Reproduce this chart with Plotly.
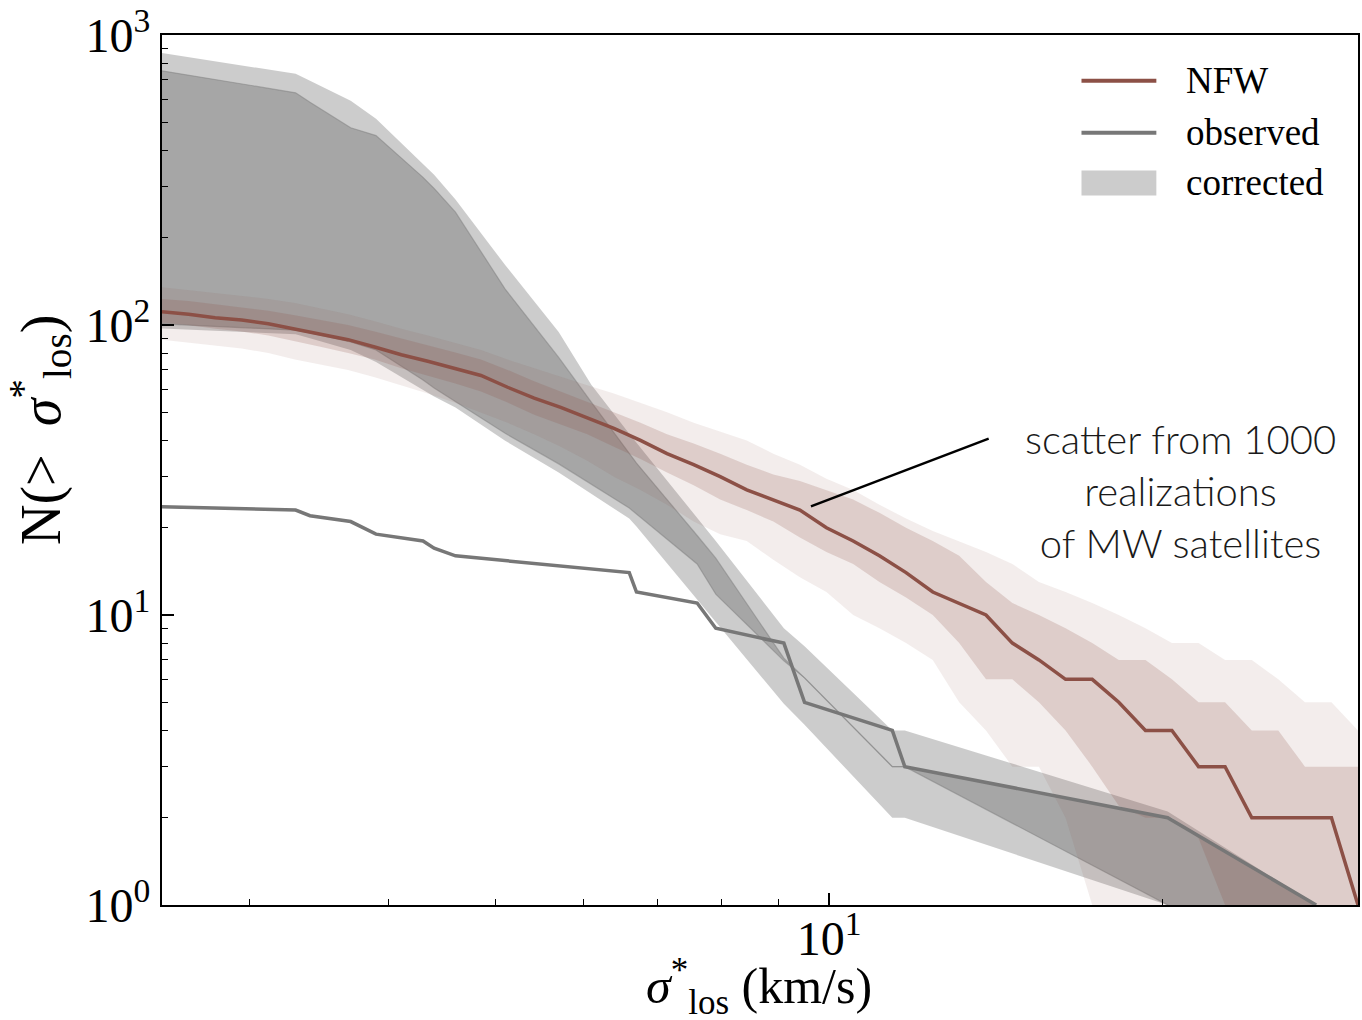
import math
import plotly.graph_objects as go

# ---------------- data ----------------
# NFW prediction: sigma grid (km/s), median and 68% / 95% scatter bands
nfw_sigma = [2.500, 2.642, 2.792, 2.950, 3.118, 3.295, 3.482, 3.680, 3.889, 4.110,
             4.343, 4.590, 4.850, 5.126, 5.417, 5.724, 6.049, 6.393, 6.756, 7.139,
             7.545, 7.973, 8.425, 8.903, 9.409, 9.942, 10.51, 11.10, 11.73, 12.40,
             13.10, 13.85, 14.63, 15.46, 16.34, 17.27, 18.25, 19.29, 20.38, 21.54,
             22.76, 24.06, 25.42, 26.87, 28.39, 30.00]
nfw_median = [111, 109, 106, 104, 101, 97, 93, 89, 84, 79, 75, 71, 67, 61, 56, 52, 48, 44, 40, 36,
              33, 30, 27, 25, 23, 20, 18, 16, 14, 12, 11, 10, 8, 7, 6, 6, 5, 4, 4, 3,
              3, 2, 2, 2, 2, 1]
nfw_in_hi = [123, 121, 118, 115, 112, 108, 104, 100, 95, 90, 85, 80.5, 76, 70, 64, 59, 54.5, 50, 46, 42,
             39, 36, 33, 30.5, 29, 27, 25, 22.5, 20, 18, 16, 13, 11, 10, 9, 8, 7, 7, 6, 5,
             5, 4, 4, 3, 3, 3]
nfw_in_lo = [102, 100, 97, 95, 92, 88, 84, 80, 76, 71, 67, 63, 59, 54, 49, 45.5, 42, 38, 34.5, 31,
             28, 25, 23, 21, 18.5, 16.5, 15, 13, 11.5, 10, 8, 6, 6, 5, 4, 3, 2.2, 2, 2, 1.7,
             1, 0, 0, 0, 0, 0]
nfw_out_hi = [135, 132, 129, 126, 123, 119, 114, 109, 103, 97, 92, 87, 82, 76, 71, 66, 62, 58, 54, 50,
              46, 43, 40, 36, 33, 29.5, 27, 24, 21.5, 19.5, 18, 16.5, 15, 13, 12, 11, 10, 9, 8, 8,
              7, 7, 6, 5, 5, 4]
nfw_out_lo = [89, 87, 85, 83, 80, 76, 73, 70, 66, 62, 58, 54, 50, 46, 42, 38, 34, 30, 27, 24,
              21, 19, 18, 15.5, 13.5, 12, 10, 9, 8, 7, 5, 4, 3, 3, 2, 1, 0, 0, 0, 0,
              0, 0, 0, 0, 0, 0]

# observed MW satellites
obs_sigma = [2.1, 3.3, 3.4, 3.7, 3.9, 4.3, 4.4, 4.6, 6.6, 6.7, 7.6, 7.9, 9.1, 9.5, 11.4, 11.7, 20.2, 27.5]
obs_N = [24, 23, 22, 21, 19, 18, 17, 16, 14, 12, 11, 9, 8, 5, 4, 3, 2, 1]

# corrected counts: scatter bands
corr_sigma = [2.1, 3.3, 3.4, 3.7, 3.9, 4.3, 4.4, 4.6, 5.1, 5.7, 6.1, 6.6, 6.7, 7.6, 7.9, 9.1, 9.5,
              11.4, 11.7, 20.2, 27.5]
corr_out_hi = [960, 735, 695, 593, 514, 357, 330, 271, 161, 94.6, 62.2, 42.2, 39.3, 21.5, 18, 9.0, 7.8,
               4, 4, 2.1, 1]
corr_in_hi = [840, 632, 586, 479, 450, 323, 296, 245, 133, 77.3, 54.2, 35.9, 33.4, 18.8, 15.7, 7.1, 6.07,
              3, 3, 2, 1]
corr_in_lo = [104, 96, 94, 87.4, 82, 64.6, 60.6, 54.4, 42.3, 33.2, 28.3, 23.4, 22.3, 15.0, 11.8, 6.95, 6.07,
              3, 3, 1, 0]
corr_out_lo = [100, 93, 90, 82, 74.6, 59.8, 56.7, 51.9, 39.9, 31, 26.2, 21.5, 20.2, 11.3, 9.5, 4.94, 4.18,
               2, 2, 1, 0]

legend_labels = ["NFW", "observed", "corrected"]
x_ticks = [10]
x_ticktext = ["10<sup>1</sup>"]
y_ticks = [1, 10, 100, 1000]
y_ticktext = ["10<sup>0</sup>", "10<sup>1</sup>", "10<sup>2</sup>", "10<sup>3</sup>"]

# ---------------- styling ----------------
NFW_COL = "#8c5046"
OBS_COL = "#777777"
SERIF = "Liberation Serif, Times New Roman, serif"
SANS = "Lato, Open Sans, sans-serif"


def floor(v):
    # zero counts cannot be shown on a log axis -> push them far below the frame
    return [a if a > 0 else 1e-2 for a in v]


fig = go.Figure()


def band(x, lo, hi, color, lw=0, name=None):
    fig.add_trace(go.Scatter(x=x, y=floor(lo), mode="lines",
                             line=dict(color=color, width=lw), hoverinfo="skip",
                             showlegend=False))
    fig.add_trace(go.Scatter(x=x, y=floor(hi), mode="lines", fill="tonexty",
                             fillcolor=color, line=dict(color=color, width=lw),
                             hoverinfo="skip", showlegend=False, name=name))


# corrected bands
band(corr_sigma, corr_out_lo, corr_out_hi, "rgba(128,128,128,0.4)", 0, "corrected")
band(corr_sigma, corr_in_lo, corr_in_hi, "rgba(128,128,128,0.5)", 1.2)
# NFW bands
band(nfw_sigma, nfw_out_lo, nfw_out_hi, "rgba(140,80,70,0.10)", 0)
band(nfw_sigma, nfw_in_lo, nfw_in_hi, "rgba(140,80,70,0.20)", 0)

fig.add_trace(go.Scatter(x=nfw_sigma, y=nfw_median, mode="lines", name="NFW",
                         line=dict(color=NFW_COL, width=3.5), showlegend=False))
fig.add_trace(go.Scatter(x=obs_sigma, y=obs_N, mode="lines", name="observed",
                         line=dict(color=OBS_COL, width=3.5), showlegend=False))

# ---------------- axes ----------------
fig.update_xaxes(type="log", range=[math.log10(2.5), math.log10(30)],
                 tickvals=x_ticks, ticktext=x_ticktext,
                 ticks="inside", ticklen=12, tickwidth=1.6, tickcolor="black",
                 ticklabelstandoff=-10, ticklabeloverflow="allow",
                 minor=dict(ticks="inside", ticklen=6, tickwidth=1.3, tickcolor="black",
                            tickvals=[3, 4, 5, 6, 7, 8, 9, 20], showgrid=False),
                 showline=True, linewidth=2.2, linecolor="black", mirror=True,
                 showgrid=False, zeroline=False,
                 tickfont=dict(family=SERIF, size=48, color="black"))
yminor = [m * d for d in (1, 10, 100) for m in range(2, 10)]
fig.update_yaxes(type="log", range=[0, 3],
                 tickvals=y_ticks, ticktext=y_ticktext,
                 ticks="inside", ticklen=12, tickwidth=1.6, tickcolor="black",
                 ticklabeloverflow="allow",
                 minor=dict(ticks="inside", ticklen=6, tickwidth=1.3, tickcolor="black",
                            tickvals=yminor, showgrid=False),
                 showline=True, linewidth=2.2, linecolor="black", mirror=True,
                 showgrid=False, zeroline=False,
                 tickfont=dict(family=SERIF, size=48, color="black"))

annotations = [
    dict(text="<i>σ</i><sup>*</sup><sub>los</sub> (km/s)", xref="paper", yref="paper",
         x=0.4992, y=-0.094, showarrow=False, xanchor="center", yanchor="middle",
         font=dict(family=SERIF, size=50, color="black")),
    dict(text="N(&gt;  <i>σ</i><sup>*</sup><sub>los</sub>)", xref="paper", yref="paper",
         x=-0.102, y=0.546, showarrow=False, textangle=-90, xanchor="center", yanchor="middle",
         font=dict(family=SERIF, size=56, color="black")),
    dict(text="scatter from 1000<br>realizations<br>of MW satellites", xref="paper", yref="paper",
         x=0.852, y=0.4754, showarrow=False, xanchor="center", yanchor="middle", align="center",
         font=dict(family=SANS, size=40, color="#1a1a1a", weight=300)),
]

# legend (manual, matplotlib-like long handles)
leg_x0, leg_x1, leg_tx = 0.7688, 0.8314, 0.8548
leg_y = [0.9473, 0.8877, 0.8299]
shapes = [
    dict(type="line", xref="paper", yref="paper", x0=leg_x0, x1=leg_x1, y0=leg_y[0], y1=leg_y[0],
         line=dict(color=NFW_COL, width=4)),
    dict(type="line", xref="paper", yref="paper", x0=leg_x0, x1=leg_x1, y0=leg_y[1], y1=leg_y[1],
         line=dict(color=OBS_COL, width=4)),
    dict(type="rect", xref="paper", yref="paper", x0=leg_x0, x1=leg_x1, y0=0.8156, y1=0.8442,
         fillcolor="rgba(128,128,128,0.4)", line=dict(width=0)),
    # pointer line of the text note
    dict(type="line", xref="paper", yref="paper", x0=0.6912, y0=0.5361, x1=0.5426, y1=0.4582,
         line=dict(color="black", width=2.5)),
]
for lab, yy in zip(legend_labels, leg_y):
    annotations.append(dict(text=lab, xref="paper", yref="paper", x=leg_tx, y=yy,
                            showarrow=False, xanchor="left", yanchor="middle",
                            font=dict(family=SERIF, size=37, color="black")))

fig.update_layout(width=1362, height=1020,
                  margin=dict(l=162, r=2, t=32, b=115),
                  paper_bgcolor="white", plot_bgcolor="white",
                  showlegend=False, annotations=annotations, shapes=shapes)

fig.write_html("out.html")
